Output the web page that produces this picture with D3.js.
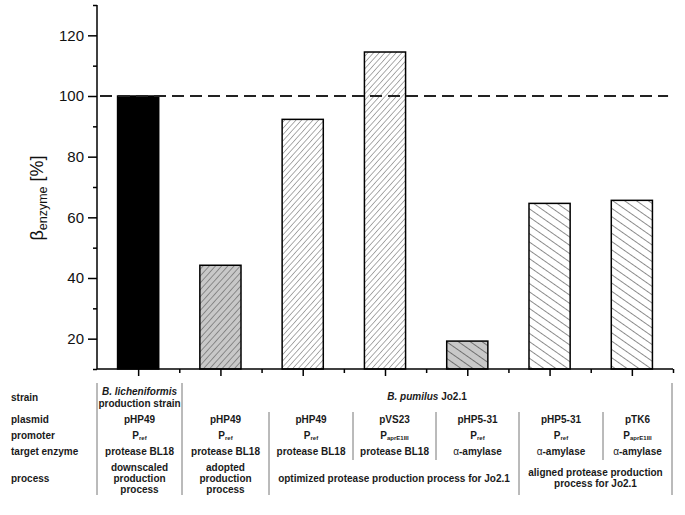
<!DOCTYPE html>
<html>
<head>
<meta charset="utf-8">
<script src="https://cdn.jsdelivr.net/npm/d3@7"></script>
<style>
  html, body { margin: 0; padding: 0; background: #fff; }
  svg text { font-family: "Liberation Sans", Arial, Helvetica, sans-serif; }
</style>
</head>
<body>
<svg id="chart" width="685" height="515"></svg>
<script>
// ---------- data ----------
const categories = ["B. licheniformis pHP49", "B. pumilus pHP49 adopted", "B. pumilus pHP49 optimized",
                    "B. pumilus pVS23", "B. pumilus pHP5-31 optimized", "B. pumilus pHP5-31 aligned", "B. pumilus pTK6"];
const values = [100, 44.2, 92.3, 114.5, 19.2, 64.6, 65.6];
const yTicks = [20, 40, 60, 80, 100, 120];
const yMinorTicks = [10, 30, 50, 70, 90, 110, 130];
const referenceLine = 100;

const rowLabels = ["strain", "plasmid", "promoter", "target enzyme", "process"];
const plasmids = ["pHP49", "pHP49", "pHP49", "pVS23", "pHP5-31", "pHP5-31", "pTK6"];
const promoterSubs = ["ref", "ref", "ref", "aprE1III", "ref", "ref", "aprE1III"];
const enzymes = ["protease BL18", "protease BL18", "protease BL18", "protease BL18", "α-amylase", "α-amylase", "α-amylase"];
const processes = [
  { from: 0, to: 0, lines: ["downscaled", "production", "process"] },
  { from: 1, to: 1, lines: ["adopted", "production", "process"] },
  { from: 2, to: 4, lines: ["optimized protease production process for Jo2.1"] },
  { from: 5, to: 6, lines: ["aligned protease production", "process for Jo2.1"] }
];

// ---------- styles ----------
const barFills = ["#000", "url(#hGrayFwd)", "url(#hWhiteFwd)", "url(#hWhiteFwd)", "url(#hGrayBack)", "url(#hWhiteBack)", "url(#hWhiteBack)"];

const svg = d3.select("#chart");
const x = d3.scaleLinear().domain([0.5, 7.5]).range([97, 673]);
const y = d3.scaleLinear().domain([10, 130]).range([369, 5]);

// patterns
const defs = svg.append("defs");
function hatch(id, bg, color, spacing, angle, sw) {
  const p = defs.append("pattern").attr("id", id)
    .attr("patternUnits", "userSpaceOnUse")
    .attr("width", spacing).attr("height", 20)
    .attr("patternTransform", `rotate(${angle})`);
  p.append("rect").attr("width", spacing).attr("height", 20).attr("fill", bg);
  p.append("line").attr("x1", spacing / 2).attr("x2", spacing / 2).attr("y1", 0).attr("y2", 20)
    .attr("stroke", color).attr("stroke-width", sw);
}
hatch("hGrayFwd", "#c8c8c8", "#6a6a6a", 4.6, 42, 0.7);
hatch("hWhiteFwd", "#fff", "#808080", 4.2, 42, 0.7);
hatch("hGrayBack", "#c8c8c8", "#5a5a5a", 6.8, -55, 0.8);
hatch("hWhiteBack", "#fff", "#707070", 6.8, -55, 0.8);

// bars
const bw = (x(1.25) - x(0.75));
svg.append("g").selectAll("rect").data(values).join("rect")
  .attr("x", (d, i) => x(i + 1) - bw / 2)
  .attr("width", bw)
  .attr("y", d => y(d))
  .attr("height", d => y(10) - y(d))
  .attr("fill", (d, i) => barFills[i])
  .attr("stroke", "#000")
  .attr("stroke-width", 1.5);

// reference line
svg.append("line")
  .attr("x1", x(0.5) + 3).attr("x2", x(7.44))
  .attr("y1", y(referenceLine)).attr("y2", y(referenceLine))
  .attr("stroke", "#222").attr("stroke-width", 1.8)
  .attr("stroke-dasharray", "12,6");

// y axis
const yAxis = svg.append("g").attr("transform", `translate(${x(0.5)},0)`)
  .call(d3.axisLeft(y).tickValues(yTicks).tickSize(9).tickPadding(4));
svg.append("g").attr("transform", `translate(${x(0.5)},0)`)
  .call(d3.axisLeft(y).tickValues(yMinorTicks).tickSize(4).tickFormat(""))
  .call(g => g.select(".domain").remove());
yAxis.selectAll("text").attr("font-size", 15).attr("fill", "#111")
  .style("font-family", "'Liberation Sans', Arial, sans-serif");
yAxis.select(".domain").attr("d", `M0,${y(130)}V${y(10)}`);

// x axis
const xAxis = svg.append("g").attr("transform", `translate(0,${y(10)})`)
  .call(d3.axisBottom(x).tickValues(d3.range(1, 8)).tickSize(7).tickFormat(""));
svg.append("g").attr("transform", `translate(0,${y(10)})`)
  .call(d3.axisBottom(x).tickValues(d3.range(1.5, 8, 1)).tickSize(4).tickFormat(""))
  .call(g => g.select(".domain").remove());
xAxis.select(".domain").attr("d", `M${x(0.5)},0H${x(7.5)}`);
svg.selectAll(".domain, .tick line").attr("stroke", "#000").attr("stroke-width", 1.5);

// y label
const yl = svg.append("text")
  .attr("transform", `translate(43,198) rotate(-90)`)
  .attr("text-anchor", "middle").attr("fill", "#111");
yl.append("tspan").attr("font-size", 18).text("β");
yl.append("tspan").attr("font-size", 12.5).attr("dy", 4).text("enzyme");
yl.append("tspan").attr("font-size", 18).attr("dy", -4).text(" [%]");

// ---------- table ----------
const colEdges = [97, 182, 269, 353, 436, 519, 603, 672];
const colCenter = i => (colEdges[i] + colEdges[i + 1]) / 2;
const spanCenter = (a, b) => (colEdges[a] + colEdges[b + 1]) / 2;
const fs = 10;
const tbl = svg.append("g").attr("font-weight", "bold").attr("font-size", fs).attr("fill", "#1a1a1a");

const rowY = [401, 423, 439, 455, 482];
tbl.selectAll("text.rl").data(rowLabels).join("text").attr("class", "rl")
  .attr("x", 11).attr("y", (d, i) => rowY[i]).text(d => d);

// strain row
tbl.append("text").attr("x", colCenter(0)).attr("y", 395).attr("text-anchor", "middle")
  .attr("font-style", "italic").text("B. licheniformis");
tbl.append("text").attr("x", colCenter(0)).attr("y", 406.5).attr("text-anchor", "middle")
  .text("production strain");
const pum = tbl.append("text").attr("x", spanCenter(1, 6)).attr("y", 400).attr("text-anchor", "middle");
pum.append("tspan").attr("font-style", "italic").text("B. pumilus");
pum.append("tspan").text(" Jo2.1");

// plasmid row
tbl.selectAll("text.pl").data(plasmids).join("text").attr("class", "pl")
  .attr("x", (d, i) => colCenter(i)).attr("y", rowY[1]).attr("text-anchor", "middle").text(d => d);

// promoter row
tbl.selectAll("text.pr").data(promoterSubs).join("text").attr("class", "pr")
  .attr("x", (d, i) => colCenter(i)).attr("y", rowY[2]).attr("text-anchor", "middle")
  .each(function (d) {
    const t = d3.select(this);
    t.append("tspan").text("P");
    t.append("tspan").attr("font-size", 6).attr("dy", 1).text(d);
  });

// enzyme row
tbl.selectAll("text.en").data(enzymes).join("text").attr("class", "en")
  .attr("x", (d, i) => colCenter(i)).attr("y", rowY[3]).attr("text-anchor", "middle")
  .each(function (d) {
    const t = d3.select(this);
    if (d.startsWith("α")) {
      t.append("tspan").attr("font-weight", "normal").text("α");
      t.append("tspan").text(d.slice(1));
    } else t.text(d);
  });

// process row
processes.forEach(p => {
  const cx = spanCenter(p.from, p.to);
  const n = p.lines.length;
  const lh = 11;
  const y0 = n === 3 ? 471 : (n === 2 ? 476 : 482);
  p.lines.forEach((l, k) => {
    tbl.append("text").attr("x", cx).attr("y", y0 + k * lh).attr("text-anchor", "middle").text(l);
  });
});

// separators
const sep = [
  { x: 0, y1: 383, y2: 495 }, { x: 1, y1: 383, y2: 495 }, { x: 2, y1: 412, y2: 495 },
  { x: 3, y1: 412, y2: 460 }, { x: 4, y1: 412, y2: 460 }, { x: 5, y1: 412, y2: 495 },
  { x: 6, y1: 412, y2: 460 }, { x: 7, y1: 383, y2: 495 }
];
svg.append("g").selectAll("line").data(sep).join("line")
  .attr("x1", d => colEdges[d.x]).attr("x2", d => colEdges[d.x])
  .attr("y1", d => d.y1).attr("y2", d => d.y2)
  .attr("stroke", "#777").attr("stroke-width", 1);
</script>
</body>
</html>
